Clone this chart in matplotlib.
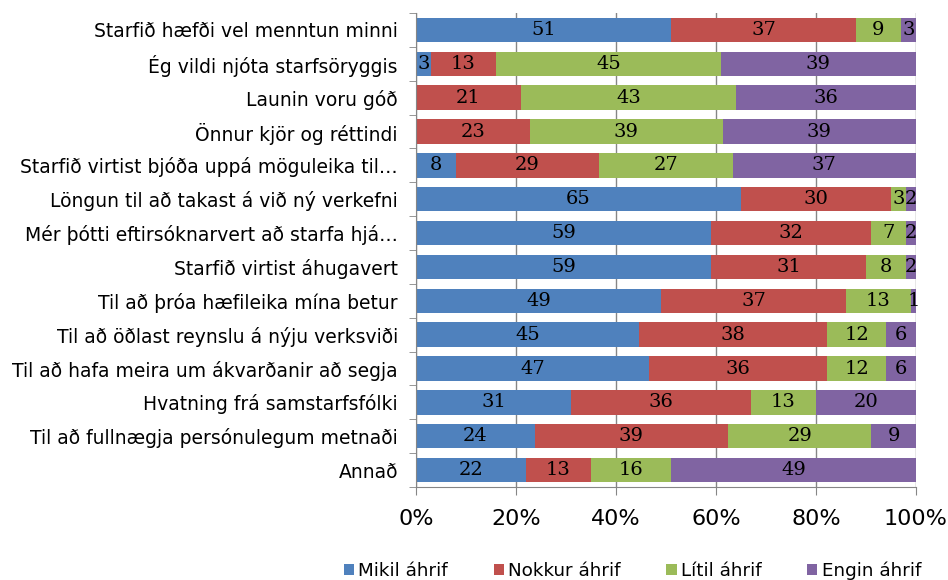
import numpy as np
import matplotlib.pyplot as plt

categories = [
    "Starfið hæfði vel menntun minni",
    "Ég vildi njóta starfsöryggis",
    "Launin voru góð",
    "Önnur kjör og réttindi",
    "Starfið virtist bjóða uppá möguleika til…",
    "Löngun til að takast á við ný verkefni",
    "Mér þótti eftirsóknarvert að starfa hjá…",
    "Starfið virtist áhugavert",
    "Til að þróa hæfileika mína betur",
    "Til að öðlast reynslu á nýju verksviði",
    "Til að hafa meira um ákvarðanir að segja",
    "Hvatning frá samstarfsfólki",
    "Til að fullnægja persónulegum metnaði",
    "Annað",
]
mikil   = [51, 3, 0, 0, 8, 65, 59, 59, 49, 45, 47, 31, 24, 22]
nokkur  = [37, 13, 21, 23, 29, 30, 32, 31, 37, 38, 36, 36, 39, 13]
litil   = [9, 45, 43, 39, 27, 3, 7, 8, 13, 12, 12, 13, 29, 16]
engin   = [3, 39, 36, 39, 37, 2, 2, 2, 1, 6, 6, 20, 9, 49]
series_names = ["Mikil áhrif", "Nokkur áhrif", "Lítil áhrif", "Engin áhrif"]
colors = ["#4F81BD", "#C0504D", "#9BBB59", "#8064A2"]

data = np.array([mikil, nokkur, litil, engin], dtype=float)
shares = data / data.sum(axis=0)   # 100% stacked, like Excel does it

fig = plt.figure(figsize=(9.48, 5.8), dpi=100)
ax = fig.add_axes([0.4388, 0.1603, 0.5274, 0.8173])

y = np.arange(len(categories))
left = np.zeros(len(categories))
for i in range(4):
    bars = ax.barh(y, shares[i], left=left, height=0.72, color=colors[i],
                   label=series_names[i], zorder=2)
    for j, b in enumerate(bars):
        if data[i, j] > 0:
            ax.text(left[j] + shares[i, j] / 2, y[j], "%d" % data[i, j],
                    ha="center", va="center", fontsize=14,
                    family="DejaVu Serif", color="black", zorder=3)
    left += shares[i]

ax.set_ylim(len(categories) - 0.5, -0.5)
ax.set_xlim(0, 1)
ax.set_yticks(y)
ax.set_yticklabels(categories, fontsize=13.5)
ax.set_yticks(np.arange(-0.5, len(categories)), minor=True)
ax.tick_params(axis="y", which="major", length=0, pad=13)
ax.tick_params(axis="y", which="minor", length=5, color="#868686")

ax.set_xticks(np.linspace(0, 1, 6))
ax.set_xticklabels(["0%", "20%", "40%", "60%", "80%", "100%"], fontsize=16)
ax.tick_params(axis="x", length=6, color="#868686", pad=10)
ax.grid(axis="x", color="#868686", linewidth=1, zorder=0)
ax.set_axisbelow(True)

for s in ["top", "right"]:
    ax.spines[s].set_visible(False)
for s in ["left", "bottom"]:
    ax.spines[s].set_color("#868686")

ax.legend(loc="center", bbox_to_anchor=(0.433, -0.176), ncol=4,
          frameon=False, fontsize=13.2, handlelength=0.56, handleheight=0.56,
          handletextpad=0.22, columnspacing=2.5, borderaxespad=0)

fig.savefig("out.png", dpi=100)
